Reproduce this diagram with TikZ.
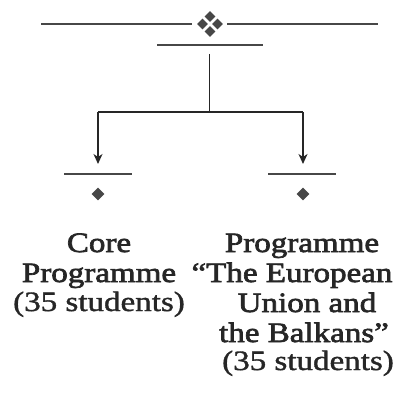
\documentclass[tikz,border=0pt]{standalone}
\usepackage{fontspec}
\setmainfont[FakeStretch=1.18,FakeBold=1.3]{Liberation Serif}
\newfontfamily\headfont[FakeStretch=1.18,FakeBold=2.4]{Liberation Serif}
\usetikzlibrary{arrows.meta,shapes.geometric}
\definecolor{ink}{HTML}{262626}
\begin{document}
\begin{tikzpicture}[x=1pt,y=-1pt,
  rule/.style={line width=2.8pt,draw=ink!85},
  conn/.style={line width=1.5pt,draw=ink},
  gem/.style={shape=diamond,fill=ink!85,inner sep=0pt,minimum width=#1,minimum height=#1},
  gem/.default=11pt,
  headline/.style={anchor=base,inner sep=0pt,text=ink,font=\headfont\fontsize{28}{30}\selectfont},
  subline/.style={anchor=base,inner sep=0pt,text=ink,font=\fontsize{28}{30}\selectfont},
  arr/.style={conn,-{Stealth[length=10pt,width=9pt,inset=3pt]}}]
\useasboundingbox (0,0) rectangle (412,396);
% top ornament
\coordinate (tl1) at (41,24); \coordinate (tl2) at (192,24);
\coordinate (tr1) at (227,24); \coordinate (tr2) at (378,24);
\draw[rule] (tl1) -- (tl2);
\draw[rule] (tr1) -- (tr2);
\node[gem] (gt) at (210,16.5) {};
\node[gem] (gb) at (210,31.5) {};
\node[gem] (gl) at (202.5,24) {};
\node[gem] (gr) at (217.5,24) {};
% second rule
\coordinate (s1) at (157,45); \coordinate (s2) at (263,45);
\draw[rule] (s1) -- (s2);
% connectors
\coordinate (top) at (209.5,54);
\coordinate (mid) at (209.5,112);
\coordinate (jl) at (98,112);
\coordinate (jr) at (303,112);
\coordinate (al) at (98,164);
\coordinate (ar) at (303,164);
\draw[conn] (top) -- (mid);
\draw[conn] (jl) -- (jr);
\draw[arr] (jl) -- (al);
\draw[arr] (jr) -- (ar);
% lower rules
\coordinate (ll1) at (64,174); \coordinate (ll2) at (132,174);
\coordinate (rl1) at (268,174); \coordinate (rl2) at (336,174);
\draw[rule] (ll1) -- (ll2);
\draw[rule] (rl1) -- (rl2);
\node[gem=13pt] (dl) at (98,194) {};
\node[gem=13pt] (dr) at (303,194) {};
% labels
\node[headline] (l1) at (99,252) {Core};
\node[headline] (l2) at (99,282) {Programme};
\node[subline]  (l3) at (99,311) {(35 students)};
\node[headline] (r1) at (302,252) {Programme};
\node[headline] (r2) at (292,282) {“The European};
\node[headline] (r3) at (307,312) {Union and};
\node[headline] (r4) at (304,342) {the Balkans”};
\node[subline]  (r5) at (308,370) {(35 students)};
\end{tikzpicture}
\end{document}
